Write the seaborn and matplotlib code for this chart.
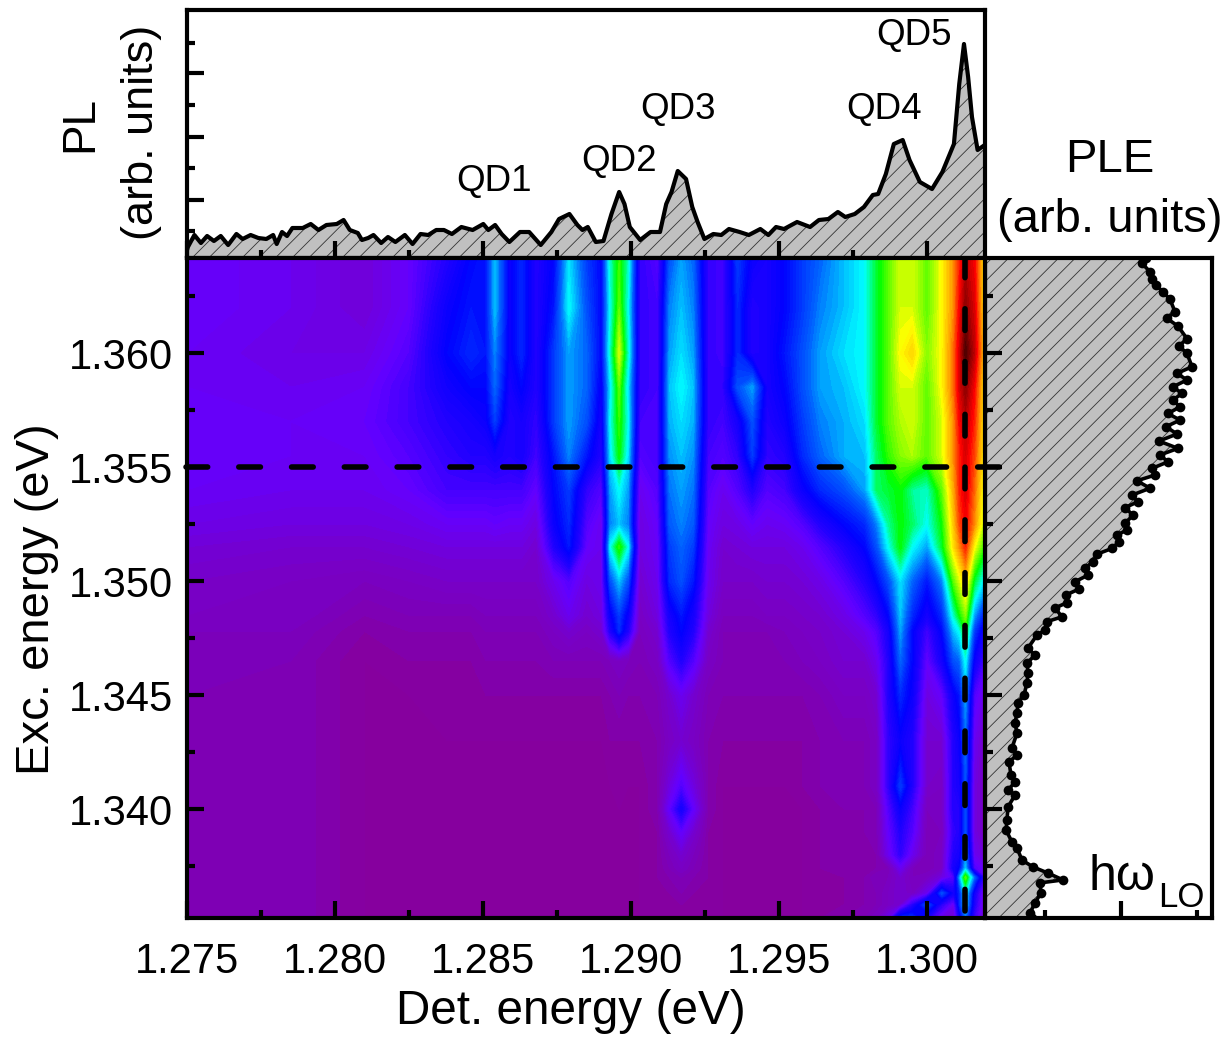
#!/usr/bin/env python3
# -*- coding: utf-8 -*-
import numpy as np
import matplotlib
matplotlib.use('Agg')
import matplotlib.pyplot as plt
import seaborn as sns
from matplotlib.colors import LinearSegmentedColormap
from matplotlib.ticker import FixedLocator, MultipleLocator, NullFormatter

# PL spectrum on top (detection energy, height)
PL_ENERGY = [1.27500, 1.27503, 1.27525, 1.27547, 1.27568, 1.27591, 1.27614, 1.27639, 1.27667, 1.27688,
             1.27715, 1.27741, 1.27768, 1.27791, 1.27803, 1.27821, 1.27838, 1.27856, 1.27891, 1.27918,
             1.27944, 1.27971, 1.28006, 1.28029, 1.28050, 1.28077, 1.28091, 1.28112, 1.28130, 1.28156,
             1.28179, 1.28204, 1.28236, 1.28262, 1.28289, 1.28315, 1.28342, 1.28368, 1.28395, 1.28427,
             1.28465, 1.28501, 1.28518, 1.28541, 1.28563, 1.28589, 1.28625, 1.28656, 1.28695, 1.28731,
             1.28757, 1.28792, 1.28819, 1.28836, 1.28854, 1.28881, 1.28907, 1.28934, 1.28960, 1.28978,
             1.28996, 1.29031, 1.29066, 1.29098, 1.29119, 1.29137, 1.29158, 1.29186, 1.29207, 1.29225,
             1.29248, 1.29278, 1.29305, 1.29331, 1.29367, 1.29398, 1.29437, 1.29464, 1.29490, 1.29517,
             1.29561, 1.29605, 1.29635, 1.29667, 1.29699, 1.29724, 1.29756, 1.29787, 1.29817, 1.29835,
             1.29861, 1.29888, 1.29918, 1.29941, 1.29976, 1.30017, 1.30052, 1.30091, 1.30109, 1.30125,
             1.30139, 1.30152, 1.30171, 1.30200]
PL_VALUES = [8, 11, 23, 15, 22, 17, 22, 13, 24, 19,
             23, 20, 19, 23, 14, 26, 22, 30, 30, 34,
             28, 33, 34, 38, 28, 25, 18, 20, 23, 15,
             21, 16, 23, 14, 24, 23, 28, 28, 24, 31,
             28, 34, 28, 33, 24, 16, 26, 26, 13, 26,
             39, 44, 33, 28, 31, 16, 17, 44, 66, 54,
             31, 18, 26, 26, 54, 66, 87, 79, 51, 36,
             19, 24, 23, 29, 26, 23, 29, 23, 31, 29,
             36, 31, 38, 39, 46, 41, 44, 51, 63, 64,
             84, 114, 118, 98, 76, 69, 86, 114, 174, 214,
             181, 141, 108, 114]

# PLE spectrum on the right (excitation energy, height)
PLE_ENERGY = [1.36417, 1.36393, 1.36357, 1.36327, 1.36298, 1.36269, 1.36236, 1.36181, 1.36152, 1.36118, 1.36063,
              1.36031, 1.35999, 1.35940, 1.35911, 1.35882, 1.35852, 1.35823, 1.35794, 1.35764, 1.35735,
              1.35706, 1.35677, 1.35645, 1.35614, 1.35582, 1.35553, 1.35523, 1.35494, 1.35465, 1.35440,
              1.35407, 1.35377, 1.35348, 1.35322, 1.35289, 1.35253, 1.35224, 1.35202, 1.35172, 1.35143,
              1.35118, 1.35085, 1.35056, 1.35026, 1.34997, 1.34965, 1.34939, 1.34905, 1.34882, 1.34843,
              1.34822, 1.34785, 1.34763, 1.34706, 1.34675, 1.34640, 1.34597, 1.34553, 1.34500, 1.34465,
              1.34421, 1.34377, 1.34333, 1.34268, 1.34237, 1.34206, 1.34149, 1.34118, 1.34083, 1.34061,
              1.34009, 1.33952, 1.33908, 1.33855, 1.33829, 1.33776, 1.33746, 1.33719, 1.33689, 1.33676,
              1.33632, 1.33588, 1.33544, 1.33522]
PLE_VALUES = [161, 157, 165, 167, 171, 178, 185, 190, 182, 193, 202,
              194, 202, 207, 192, 202, 188, 197, 188, 195, 183,
              195, 181, 192, 174, 193, 175, 183, 167, 170, 152,
              165, 147, 153, 140, 148, 140, 142, 132, 134, 127,
              112, 108, 100, 103, 90, 94, 81, 82, 70, 77,
              62, 60, 52, 43, 50, 42, 43, 42, 39, 33,
              32, 30, 32, 27, 32, 24, 26, 30, 23, 30,
              23, 22, 21, 27, 32, 37, 48, 63, 78, 55,
              56, 50, 45, 47]

# map grid, rows go with EXC_GRID (top to bottom), columns with DET_GRID
DET_GRID = [1.2750, 1.2785, 1.2810, 1.2825, 1.2838, 1.2846, 1.2851, 1.2854, 1.2859, 1.2863,
            1.2868, 1.2874, 1.2879, 1.2885, 1.2890, 1.2893, 1.2896, 1.2899, 1.2903, 1.2909,
            1.2913, 1.2917, 1.2921, 1.2926, 1.2931, 1.2936, 1.2941, 1.2946, 1.2952, 1.2958,
            1.2964, 1.2972, 1.2979, 1.2983, 1.2987, 1.2991, 1.2995, 1.3000, 1.3005, 1.3009,
            1.3011, 1.3013, 1.3016, 1.3020]
EXC_GRID = [1.3642, 1.3620, 1.3600, 1.3585, 1.3570, 1.3555, 1.3540, 1.3525, 1.3515, 1.3500,
            1.3485, 1.3478, 1.3465, 1.3450, 1.3430, 1.3410, 1.3400, 1.3390, 1.3380, 1.3374,
            1.3370, 1.3363, 1.3358, 1.3352]
MAP_LEVELS = [
    [16, 14, 11, 16, 24, 30, 32, 46, 28, 34, 24, 30, 48, 36, 30, 52, 62, 52, 22, 18,
     38, 44, 40, 22, 20, 36, 28, 26, 30, 36, 40, 46, 50, 58, 64, 70, 70, 64, 72, 80, 86, 92, 88, 70],
    [16, 14, 11, 16, 28, 32, 32, 46, 28, 34, 24, 32, 50, 38, 30, 50, 64, 50, 22, 20,
     42, 46, 42, 22, 20, 34, 24, 26, 30, 36, 42, 46, 50, 58, 64, 70, 70, 64, 72, 80, 88, 95, 90, 70],
    [15, 13, 13, 18, 30, 34, 32, 42, 28, 34, 24, 36, 44, 40, 30, 52, 70, 52, 22, 20,
     44, 48, 44, 22, 20, 34, 24, 26, 32, 38, 44, 48, 50, 58, 64, 72, 75, 66, 72, 82, 90, 99, 92, 72],
    [15, 14, 15, 20, 27, 30, 30, 40, 26, 30, 24, 36, 44, 40, 28, 48, 64, 48, 22, 20,
     46, 50, 46, 22, 22, 38, 44, 26, 30, 38, 44, 46, 50, 58, 64, 70, 70, 64, 72, 82, 90, 95, 88, 70],
    [16, 15, 16, 20, 24, 26, 28, 36, 24, 26, 22, 36, 44, 38, 26, 50, 62, 50, 20, 20,
     45, 48, 45, 22, 20, 26, 38, 24, 28, 36, 42, 45, 48, 58, 64, 68, 70, 64, 70, 80, 88, 92, 86, 70],
    [16, 15, 15, 18, 22, 24, 24, 26, 24, 26, 20, 32, 42, 32, 24, 48, 60, 48, 18, 20,
     43, 46, 43, 20, 18, 22, 36, 22, 24, 34, 40, 45, 46, 56, 62, 66, 68, 64, 70, 80, 86, 90, 84, 70],
    [15, 14, 14, 16, 20, 20, 20, 20, 20, 20, 16, 30, 36, 22, 18, 44, 50, 44, 14, 18,
     41, 44, 41, 18, 14, 18, 24, 18, 20, 28, 34, 38, 44, 56, 58, 60, 54, 52, 64, 78, 86, 90, 82, 68],
    [13, 12, 12, 13, 15, 15, 15, 16, 15, 15, 12, 28, 34, 18, 14, 42, 46, 42, 12, 16,
     39, 42, 39, 16, 12, 13, 16, 14, 15, 18, 24, 30, 34, 42, 54, 60, 56, 50, 60, 76, 84, 88, 80, 66],
    [11, 10, 10, 11, 12, 12, 12, 12, 12, 12, 10, 24, 32, 16, 14, 50, 62, 50, 12, 15,
     36, 40, 36, 15, 10, 11, 12, 12, 12, 14, 18, 24, 30, 38, 50, 60, 50, 44, 58, 74, 80, 86, 72, 60],
    [9, 8, 7, 8, 9, 9, 9, 9, 9, 9, 9, 14, 18, 12, 14, 38, 46, 38, 10, 14,
     34, 38, 32, 14, 9, 9, 9, 10, 10, 11, 13, 18, 24, 30, 38, 48, 40, 32, 42, 64, 70, 76, 58, 46],
    [8, 8, 5, 6, 6, 6, 7, 7, 7, 7, 7, 10, 14, 10, 12, 28, 36, 28, 8, 12,
     26, 32, 26, 12, 7, 7, 7, 8, 8, 9, 10, 13, 18, 22, 30, 46, 34, 26, 34, 52, 60, 66, 44, 30],
    [7, 7, 4, 5, 5, 5, 6, 6, 6, 6, 6, 8, 10, 8, 10, 24, 34, 24, 7, 10,
     24, 30, 24, 10, 6, 6, 6, 6, 7, 8, 9, 11, 14, 18, 26, 44, 30, 20, 30, 46, 50, 60, 36, 24],
    [7, 6, 3, 4, 4, 4, 5, 5, 5, 5, 5, 6, 6, 6, 6, 7, 8, 7, 6, 8,
     18, 24, 18, 8, 6, 6, 6, 6, 6, 7, 8, 10, 10, 14, 24, 40, 30, 16, 26, 38, 40, 50, 28, 18],
    [6, 6, 3, 3, 4, 4, 4, 4, 4, 4, 4, 4, 4, 4, 4, 5, 6, 5, 5, 6,
     10, 14, 10, 6, 5, 5, 5, 5, 5, 5, 6, 8, 8, 10, 24, 34, 28, 12, 16, 28, 32, 44, 18, 12],
    [6, 6, 3, 3, 3, 3, 3, 3, 3, 3, 3, 3, 3, 3, 3, 4, 4, 4, 4, 5,
     8, 10, 8, 5, 4, 4, 4, 4, 4, 4, 5, 6, 6, 8, 22, 28, 24, 10, 10, 24, 28, 40, 14, 8],
    [6, 6, 3, 3, 3, 3, 3, 3, 3, 3, 3, 3, 3, 3, 3, 3, 4, 3, 3, 5,
     12, 18, 12, 5, 3, 3, 3, 3, 3, 4, 5, 6, 6, 8, 22, 36, 24, 9, 8, 24, 26, 38, 12, 7],
    [6, 6, 3, 3, 3, 3, 3, 3, 3, 3, 3, 3, 3, 3, 3, 3, 3, 3, 3, 5,
     16, 26, 16, 5, 3, 3, 3, 3, 3, 3, 4, 5, 5, 6, 18, 28, 20, 7, 8, 24, 24, 38, 12, 7],
    [6, 6, 3, 3, 3, 3, 3, 3, 3, 3, 3, 3, 3, 3, 3, 3, 3, 3, 3, 4,
     10, 16, 10, 4, 3, 3, 3, 3, 3, 3, 4, 5, 5, 6, 16, 24, 18, 6, 7, 22, 24, 38, 12, 7],
    [6, 6, 3, 3, 3, 3, 3, 3, 3, 3, 3, 3, 3, 3, 3, 3, 3, 3, 3, 4,
     7, 10, 7, 4, 3, 3, 3, 3, 3, 3, 4, 5, 5, 5, 14, 22, 14, 6, 8, 24, 26, 42, 14, 10],
    [6, 6, 3, 3, 3, 3, 3, 3, 3, 3, 3, 3, 3, 3, 3, 3, 3, 3, 3, 4,
     6, 8, 6, 4, 3, 3, 3, 3, 3, 3, 4, 5, 5, 5, 6, 14, 7, 6, 8, 26, 30, 46, 18, 14],
    [6, 6, 3, 3, 3, 3, 3, 3, 3, 3, 3, 3, 3, 3, 3, 3, 3, 3, 3, 4,
     5, 6, 5, 4, 3, 3, 3, 3, 3, 3, 4, 4, 5, 7, 7, 10, 7, 8, 12, 18, 44, 64, 40, 16],
    [6, 6, 3, 3, 3, 3, 3, 3, 3, 3, 3, 3, 3, 3, 3, 3, 3, 3, 3, 4,
     4, 5, 4, 4, 3, 3, 3, 3, 3, 3, 4, 4, 5, 6, 8, 10, 8, 14, 38, 26, 34, 50, 26, 10],
    [6, 6, 3, 3, 3, 3, 3, 3, 3, 3, 3, 3, 3, 3, 3, 3, 3, 3, 3, 4,
     4, 4, 4, 4, 3, 3, 3, 3, 3, 3, 4, 4, 5, 6, 8, 10, 22, 38, 22, 14, 34, 48, 24, 9],
    [6, 6, 3, 3, 3, 3, 3, 3, 3, 3, 3, 3, 3, 3, 3, 3, 3, 3, 3, 4,
     4, 4, 4, 4, 3, 3, 3, 3, 3, 3, 4, 5, 6, 8, 14, 36, 36, 24, 12, 10, 26, 40, 20, 8],
]

QD_NAMES = ['QD1', 'QD2', 'QD3', 'QD4', 'QD5']
QD_POS = [(1.28538, 77), (1.28960, 97), (1.29160, 148), (1.29855, 148), (1.29956, 223)]
X_TICKS = [1.275, 1.280, 1.285, 1.290, 1.295, 1.300]
Y_TICKS = [1.340, 1.345, 1.350, 1.355, 1.360]
CUT_EXC = 1.355
CUT_DET = 1.3013

W, H = 1228, 1040


def px_axes(fig, left, top, right, bottom):
    '''
    Make an axes from pixel edges of the picture
    '''
    return fig.add_axes([left / W, 1 - bottom / H, (right - left) / W, (bottom - top) / H])


def style_axis(ax):
    for side in ax.spines.values():
        side.set_linewidth(3)
    ax.set_axisbelow(False)
    ax.tick_params(which='major', direction='in', length=12, width=3)
    ax.tick_params(which='minor', direction='in', length=6, width=3)
    ax.set_xlabel('')
    ax.set_ylabel('')


def main():
    sns.set_theme(style='ticks', rc={'text.color': 'black', 'axes.edgecolor': 'black',
                                     'xtick.color': 'black', 'ytick.color': 'black',
                                     'axes.labelcolor': 'black'})
    plt.rcParams['font.family'] = ['Liberation Sans', 'DejaVu Sans']
    plt.rcParams['hatch.linewidth'] = 0.6

    fig = plt.figure(figsize=(W / 100, H / 100), dpi=100)
    ax_pl = px_axes(fig, 187, 10, 985, 258)
    ax_ple = px_axes(fig, 985, 258, 1212, 918)
    ax_map = px_axes(fig, 187, 258, 985, 918)

    x_lim = (1.275, 1.30196)
    y_lim = (1.33522, 1.36417)

    # the map
    cmap = LinearSegmentedColormap.from_list('plmap', [
        (0.00, '#8a0098'), (0.03, '#8500a0'), (0.06, '#7c00b8'), (0.10, '#7400d0'),
        (0.16, '#6400ff'), (0.24, '#2000ff'), (0.30, '#0000ff'), (0.40, '#0060ff'),
        (0.50, '#00ffff'), (0.60, '#00ff00'), (0.72, '#ffff00'), (0.80, '#ff9000'),
        (0.88, '#ff0000'), (1.00, '#400000')])
    levels = np.linspace(0, 100, 101)
    ax_map.contourf(DET_GRID, EXC_GRID, np.array(MAP_LEVELS), levels=levels, cmap=cmap,
                    antialiased=False)
    ax_map.set_xlim(x_lim)
    ax_map.set_ylim(y_lim)
    ax_map.set_xticks(X_TICKS)
    ax_map.set_xticklabels(['%.3f' % t for t in X_TICKS])
    ax_map.set_yticks(Y_TICKS)
    ax_map.set_yticklabels(['%.3f' % t for t in Y_TICKS], va='center_baseline')
    ax_map.xaxis.set_minor_locator(MultipleLocator(0.0025))
    ax_map.yaxis.set_minor_locator(MultipleLocator(0.0025))
    style_axis(ax_map)
    ax_map.tick_params(axis='x', which='major', labelsize=30, pad=17)
    ax_map.tick_params(axis='y', which='major', labelsize=30, pad=10)

    # PL on top
    ax_pl.fill_between(PL_ENERGY, 0, PL_VALUES, facecolor='#c0c0c0', edgecolor='#333333',
                       hatch='//', linewidth=0)
    sns.lineplot(x=PL_ENERGY, y=PL_VALUES, ax=ax_pl, color='black', linewidth=3,
                 sort=False, estimator=None)
    ax_pl.set_xlim(x_lim)
    ax_pl.set_ylim(0, 248)
    ax_pl.set_xticks(X_TICKS)
    ax_pl.xaxis.set_minor_locator(MultipleLocator(0.0025))
    ax_pl.yaxis.set_major_locator(FixedLocator([58, 121, 185]))
    ax_pl.yaxis.set_minor_locator(FixedLocator([27, 90, 153, 215]))
    ax_pl.xaxis.set_major_formatter(NullFormatter())
    ax_pl.yaxis.set_major_formatter(NullFormatter())
    style_axis(ax_pl)
    for name, pos in zip(QD_NAMES, QD_POS):
        ax_pl.text(pos[0], pos[1], name, fontsize=26.5, ha='center', va='center', color='black')

    # PLE on the right
    ax_ple.fill_betweenx(PLE_ENERGY, 0, PLE_VALUES, facecolor='#c0c0c0', edgecolor='#333333',
                         hatch='//', linewidth=0)
    sns.lineplot(x=PLE_VALUES, y=PLE_ENERGY, ax=ax_ple, color='black', linewidth=2.6,
                 marker='o', markersize=7, markeredgewidth=0, sort=False, estimator=None,
                 orient='y')
    ax_ple.set_xlim(0, 227)
    ax_ple.set_ylim(y_lim)
    ax_ple.set_yticks(Y_TICKS)
    ax_ple.yaxis.set_minor_locator(MultipleLocator(0.0025))
    ax_ple.xaxis.set_major_locator(FixedLocator([136]))
    ax_ple.xaxis.set_minor_locator(FixedLocator([60, 212]))
    ax_ple.xaxis.set_major_formatter(NullFormatter())
    ax_ple.yaxis.set_major_formatter(NullFormatter())
    style_axis(ax_ple)

    # dashed cuts, the horizontal one runs a bit past the map
    dash = (0, (3.9, 5.6))
    ax_map.set_zorder(5)
    ax_map.plot([1.27495, 1.30257], [CUT_EXC, CUT_EXC], color='black', linewidth=4,
                linestyle=dash, dash_capstyle='round', clip_on=False, zorder=6)
    ax_map.plot([CUT_DET, CUT_DET], [1.36425, 1.3352], color='black', linewidth=4,
                linestyle=dash, dash_capstyle='round', zorder=6)

    # labels
    fig.text(571 / W, 1 - 1011 / H, 'Det. energy (eV)', fontsize=34.3, ha='center', va='center')
    fig.text(37 / W, 1 - 599 / H, 'Exc. energy (eV)', fontsize=34, rotation=90, ha='center', va='center')
    fig.text(80 / W, 1 - 124 / H, 'PL', fontsize=33, rotation=90, ha='center', va='center')
    fig.text(142 / W, 1 - 132 / H, '(arb. units)', fontsize=32.5, rotation=90, ha='center', va='center')
    fig.text(1110 / W, 1 - 160 / H, 'PLE', fontsize=34, ha='center', va='center')
    fig.text(1110 / W, 1 - 220 / H, '(arb. units)', fontsize=34, ha='center', va='center')
    fig.text(1089 / W, 1 - 890 / H, 'h\u03c9', fontsize=36, ha='left', va='baseline')
    fig.text(1158 / W, 1 - 907 / H, 'LO', fontsize=25, ha='left', va='baseline')

    fig.savefig('out.png', dpi=100)


if __name__ == "__main__":
    main()
